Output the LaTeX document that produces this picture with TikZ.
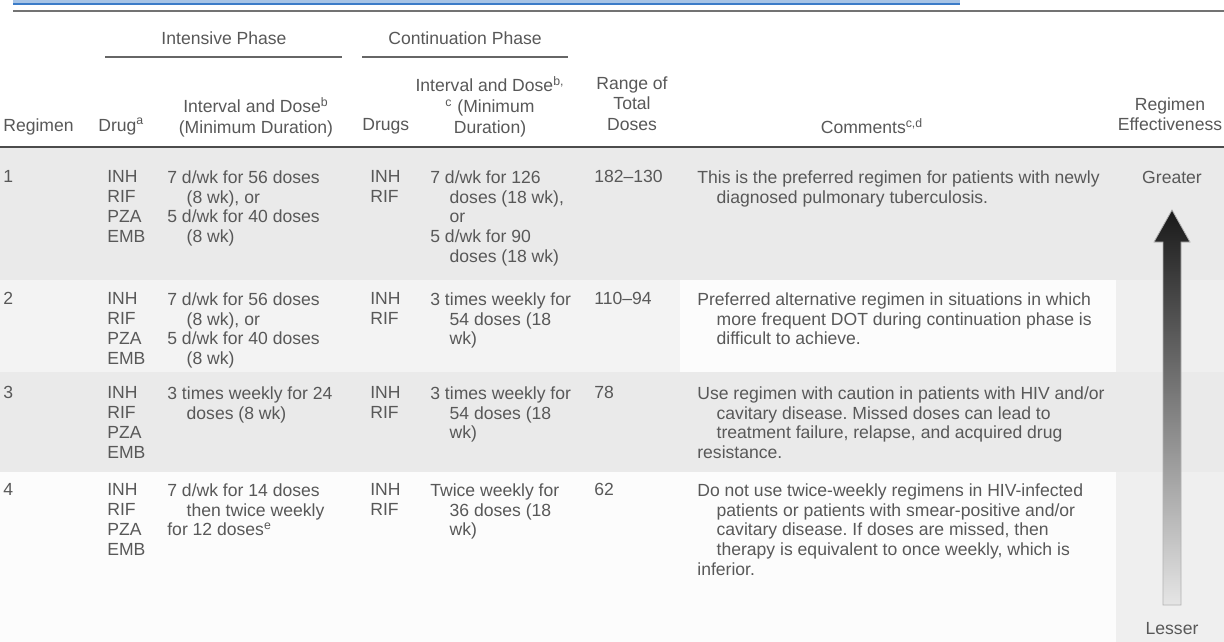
\documentclass[tikz,border=0pt]{standalone}
\usepackage{fontspec}
\setmainfont{Liberation Sans}
\usepackage{xcolor}
\usepackage{tikz}
\usetikzlibrary{positioning}
\frenchspacing
\definecolor{txtgray}{HTML}{585858}
\definecolor{rowgray}{HTML}{EAEAEA}
\definecolor{rowlight}{HTML}{F3F3F3}
\definecolor{rowwhite}{HTML}{FCFCFC}
\definecolor{colgray}{HTML}{EFEFEF}
\definecolor{linkblue}{HTML}{3C7CC8}
\newcommand{\hind}{\hspace*{1.1em}}
\tikzset{
    cell/.style={anchor=north west, inner sep=0pt, align=left, text=txtgray, font=\fontsize{10}{11.35}\selectfont},
    head/.style={anchor=north, inner sep=0pt, align=center, text=txtgray, font=\fontsize{10}{11.9}\selectfont},
    thinrule/.style={draw=black!60, line width=1.1pt},
    thickrule/.style={draw=black!70, line width=1.7pt},
    effarrow/.style={top color=black!90, bottom color=gray!20, draw=gray!60, line width=0.45pt}
}

\begin{document}
\begin{tikzpicture}[x=0.02cm, y=-0.02cm]
    \useasboundingbox (0,0) rectangle (1224,642);
    \fill[white] (0,0) rectangle (1224,642);

    % Row bands
    \fill[rowgray] (0,147) rectangle (1224,280);
    \fill[rowlight] (0,280) rectangle (1224,372);
    \fill[rowwhite] (680,280) rectangle (1116,372);
    \fill[rowgray] (0,372) rectangle (1224,472);
    \fill[rowwhite] (0,472) rectangle (1224,642);
    \fill[colgray] (1116,280) rectangle (1224,372);
    \fill[colgray] (1116,472) rectangle (1224,642);

    % Top rules
    \fill[linkblue!45] (13,0) rectangle (960,3);
    \draw[linkblue, line width=0.85pt] (13,4) -- (960,4);
    \draw[draw=black!55, line width=1.1pt] (13,11) -- (1224,11);

    % Phase labels
    \node[head] (intph) at (224,31) {Intensive Phase};
    \node[head] (conph) at (465,31) {Continuation Phase};
    \coordinate (intl) at (105,57);
    \coordinate (intr) at (342,57);
    \coordinate (conl) at (362,57);
    \coordinate (conr) at (568,57);
    \draw[thinrule] (intl) -- (intr);
    \draw[thinrule] (conl) -- (conr);

    % Column heads
    \node[cell] (hreg) at (3,118) {Regimen};
    \node[cell] (hdrug) at (98,118) {Drug\textsuperscript{a}};
    \node[head] (hint) at (256,97) {Interval and Dose\textsuperscript{b}\\(Minimum Duration)};
    \node[cell] (hdrugs) at (362,118) {Drugs};
    \node[head] (hcon) at (490,76) {Interval and Dose\textsuperscript{b,}\\\textsuperscript{c} (Minimum\\Duration)};
    \node[head] (htot) at (632,76) {Range of\\Total\\Doses};
    \node[head] (hcom) at (872,118) {Comments\textsuperscript{c,d}};
    \node[head] (heff) at (1170,97) {Regimen\\Effectiveness};
    \draw[thickrule] (0,147) -- (1224,147);

    % Regimen 1
    \node[cell] (reg1) at (3,170) {1};
    \node[cell] (drg1) at (107,170) {INH\\RIF\\PZA\\EMB};
    \node[cell] (int1) at (167,170) {7 d/wk for 56 doses\\\hind(8 wk), or\\5 d/wk for 40 doses\\\hind(8 wk)};
    \node[cell] (cdr1) at (370,170) {INH\\RIF};
    \node[cell] (con1) at (430,170) {7 d/wk for 126\\\hind doses (18 wk),\\\hind or\\5 d/wk for 90\\\hind doses (18 wk)};
    \node[cell] (tot1) at (594,170) {182--130};
    \node[cell] (com1) at (697,170) {This is the preferred regimen for patients with newly\\\hind diagnosed pulmonary tuberculosis.};

    % Regimen 2
    \node[cell] (reg2) at (3,292) {2};
    \node[cell] (drg2) at (107,292) {INH\\RIF\\PZA\\EMB};
    \node[cell] (int2) at (167,292) {7 d/wk for 56 doses\\\hind(8 wk), or\\5 d/wk for 40 doses\\\hind(8 wk)};
    \node[cell] (cdr2) at (370,292) {INH\\RIF};
    \node[cell] (con2) at (430,292) {3 times weekly for\\\hind 54 doses (18\\\hind wk)};
    \node[cell] (tot2) at (594,292) {110--94};
    \node[cell] (com2) at (697,292) {Preferred alternative regimen in situations in which\\\hind more frequent DOT during continuation phase is\\\hind difficult to achieve.};

    % Regimen 3
    \node[cell] (reg3) at (3,386) {3};
    \node[cell] (drg3) at (107,386) {INH\\RIF\\PZA\\EMB};
    \node[cell] (int3) at (167,386) {3 times weekly for 24\\\hind doses (8 wk)};
    \node[cell] (cdr3) at (370,386) {INH\\RIF};
    \node[cell] (con3) at (430,386) {3 times weekly for\\\hind 54 doses (18\\\hind wk)};
    \node[cell] (tot3) at (594,386) {78};
    \node[cell] (com3) at (697,386) {Use regimen with caution in patients with HIV and/or\\\hind cavitary disease. Missed doses can lead to\\\hind treatment failure, relapse, and acquired drug\\resistance.};

    % Regimen 4
    \node[cell] (reg4) at (3,483) {4};
    \node[cell] (drg4) at (107,483) {INH\\RIF\\PZA\\EMB};
    \node[cell] (int4) at (167,483) {7 d/wk for 14 doses\\\hind then twice weekly\\for 12 doses\textsuperscript{e}};
    \node[cell] (cdr4) at (370,483) {INH\\RIF};
    \node[cell] (con4) at (430,483) {Twice weekly for\\\hind 36 doses (18\\\hind wk)};
    \node[cell] (tot4) at (594,483) {62};
    \node[cell] (com4) at (697,483) {Do not use twice-weekly regimens in HIV-infected\\\hind patients or patients with smear-positive and/or\\\hind cavitary disease. If doses are missed, then\\\hind therapy is equivalent to once weekly, which is\\inferior.};

    % Effectiveness scale
    \node[head] (great) at (1172,171) {Greater};
    \node[head] (less) at (1172,622) {Lesser};
    \shade[effarrow] (1172,210) -- (1190,242) -- (1181,242) -- (1181,605)
        -- (1163,605) -- (1163,242) -- (1154,242) -- cycle;
\end{tikzpicture}
\end{document}
